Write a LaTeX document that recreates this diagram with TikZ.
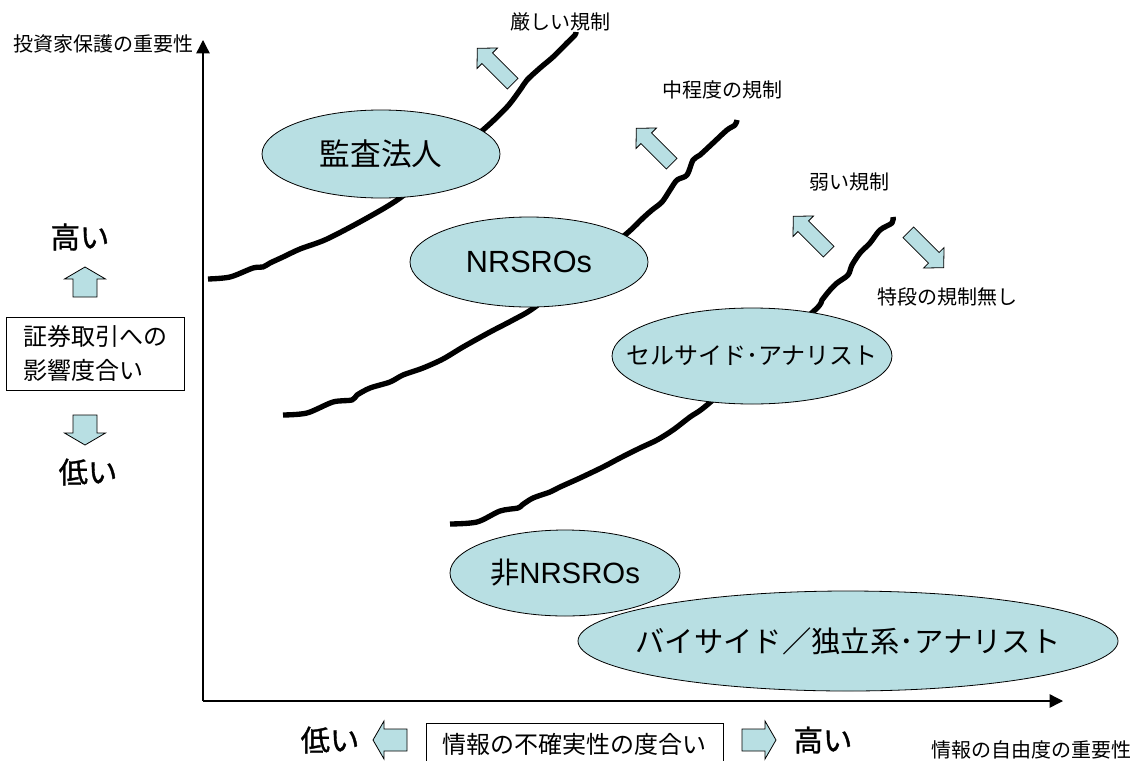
\documentclass[tikz,border=0pt]{standalone}
\usepackage{fontspec}
\setmainfont{Liberation Sans}
\newfontfamily\jp{Noto Sans CJK JP}
\newfontfamily\jpb[FakeBold=1.2]{Noto Sans CJK JP}
\usetikzlibrary{shapes.geometric,arrows.meta}
\definecolor{ellfill}{RGB}{184,223,227}
% #1 centre, #2 angle, #3 length, #4 head width, #5 head length, #6 shaft width
\newcommand{\blkarrow}[6]{%
  \begin{scope}[shift={#1},rotate=#2]
    \filldraw[blockarr] ({-#3/2},{-#6/2}) -- ({#3/2-#5},{-#6/2}) -- ({#3/2-#5},{-#4/2})
      -- ({#3/2},0) -- ({#3/2-#5},{#4/2}) -- ({#3/2-#5},{#6/2}) -- ({-#3/2},{#6/2}) -- cycle;
  \end{scope}}
\begin{document}
\begin{tikzpicture}[x=0.75pt,y=-0.75pt,
  ell/.style={ellipse, draw=black, line width=0.6pt, fill=ellfill, inner sep=0pt},
  lbl/.style={font=\jp\fontsize{15}{18}\selectfont, inner sep=0pt},
  big/.style={font=\jpb\fontsize{22}{26}\selectfont, inner sep=0pt},
  boxtxt/.style={font=\jp\fontsize{18}{26}\selectfont},
  etxt/.style={inner sep=0pt},
  curveline/.style={line width=4pt, line join=round},
  axisline/.style={line width=1pt, -{Triangle[width=10pt,length=10pt]}},
  blockarr/.style={fill=ellfill, draw=black, line width=0.6pt},
  framebox/.style={draw, line width=0.6pt, inner sep=0pt}]
\useasboundingbox (0,0) rectangle (1141,760);

% axes
\coordinate (O) at (203,701);
\coordinate (ytop) at (203,40);
\coordinate (xend) at (1063,701);
\draw[axisline] (O) -- (ytop);
\draw[axisline] (O) -- (xend);

% regulation curves
\draw[curveline] plot[smooth,tension=0.5] coordinates {(208,279) (230,277) (253,268) (263,267) (270,263) (283,257) (300,249) (327,239) (367,218) (400,198) (440,165) (483,130) (507,107) (520,90) (527,80) (540,68) (553,57) (567,43) (575,35) (576,32)};
\draw[curveline] plot[smooth,tension=0.5] coordinates {(283,415) (307,413) (333,402) (352,400) (357,395) (370,388) (390,382) (403,375) (423,368) (443,359) (463,347) (490,332) (513,320) (535,307) (580,270) (625,235) (643,218) (652,210) (662,202) (670,190) (677,180) (687,175) (693,160) (700,155) (713,143) (727,130) (735,125) (737,120)};
\draw[curveline] plot[smooth,tension=0.5] coordinates {(450,524) (477,522) (500,511) (518,508) (522,505) (533,498) (550,492) (560,487) (580,478) (603,467) (620,458) (640,448) (657,440) (673,430) (690,417) (707,405) (760,358) (815,310) (822,300) (830,290) (837,283) (848,275) (852,265) (860,253) (870,243) (880,230) (892,223) (893,217)};

% ellipses
\node[ell, minimum width=0.75pt*238, minimum height=0.75pt*88] (kansa) at (381,154) {};
\node[etxt, font=\jp\fontsize{23}{27}\selectfont] at (kansa.center) {監査法人};
\node[ell, minimum width=0.75pt*238, minimum height=0.75pt*90] (nrsro) at (529,262) {};
\node[etxt, font=\fontsize{23}{27}\selectfont] at (nrsro.center) {NRSROs};
\node[ell, minimum width=0.75pt*280, minimum height=0.75pt*96] (sell) at (752,356) {};
\node[etxt, font=\jp\fontsize{18}{21}\selectfont] at (sell.center) {セルサイド･アナリスト};
\node[ell, minimum width=0.75pt*230, minimum height=0.75pt*86] (non) at (565,573) {};
\node[etxt, font=\fontsize{22}{26}\selectfont] at (non.center) {{\jp 非}NRSROs};
\node[ell, minimum width=0.75pt*540, minimum height=0.75pt*100] (buy) at (848,641) {};
\node[etxt, font=\jp\fontsize{22}{26}\selectfont] at (buy.center) {バイサイド／独立系･アナリスト};

% regulation labels
\node[lbl] (strict) at (560,22) {厳しい規制};
\node[lbl] (medium) at (722,90) {中程度の規制};
\node[lbl] (weak) at (849,182) {弱い規制};
\node[lbl] (none) at (947,297) {特段の規制無し};
\node[lbl] (ylab) at (103,44) {投資家保護の重要性};
\node[lbl] (xlab) at (1031,750) {情報の自由度の重要性};

% block arrows
\blkarrow{(495,66)}{135}{50}{29}{14}{15}
\blkarrow{(654,146)}{135}{50}{29}{14}{15}
\blkarrow{(811,234)}{135}{50}{29}{14}{15}
\blkarrow{(926,250)}{-45}{50}{29}{14}{15}
\blkarrow{(85,282)}{90}{30}{41}{12}{24}
\blkarrow{(85,430)}{270}{30}{41}{12}{24}
\blkarrow{(390,740)}{180}{34}{38}{11}{22}
\blkarrow{(759,740)}{0}{34}{38}{11}{22}

% left legend
\node[big] (lhigh) at (80,237) {高い};
\node[framebox, boxtxt, minimum width=0.75pt*178, minimum height=0.75pt*73, align=left] (impact) at (95,353.5) {証券取引への\\影響度合い};
\node[big] (llow) at (88,472) {低い};

% bottom legend
\node[big] (blow) at (330,740) {低い};
\node[framebox, boxtxt, minimum width=0.75pt*297, minimum height=0.75pt*42] (uncert) at (574.5,744) {情報の不確実性の度合い};
\node[big] (bhigh) at (823,740) {高い};
\end{tikzpicture}
\end{document}
